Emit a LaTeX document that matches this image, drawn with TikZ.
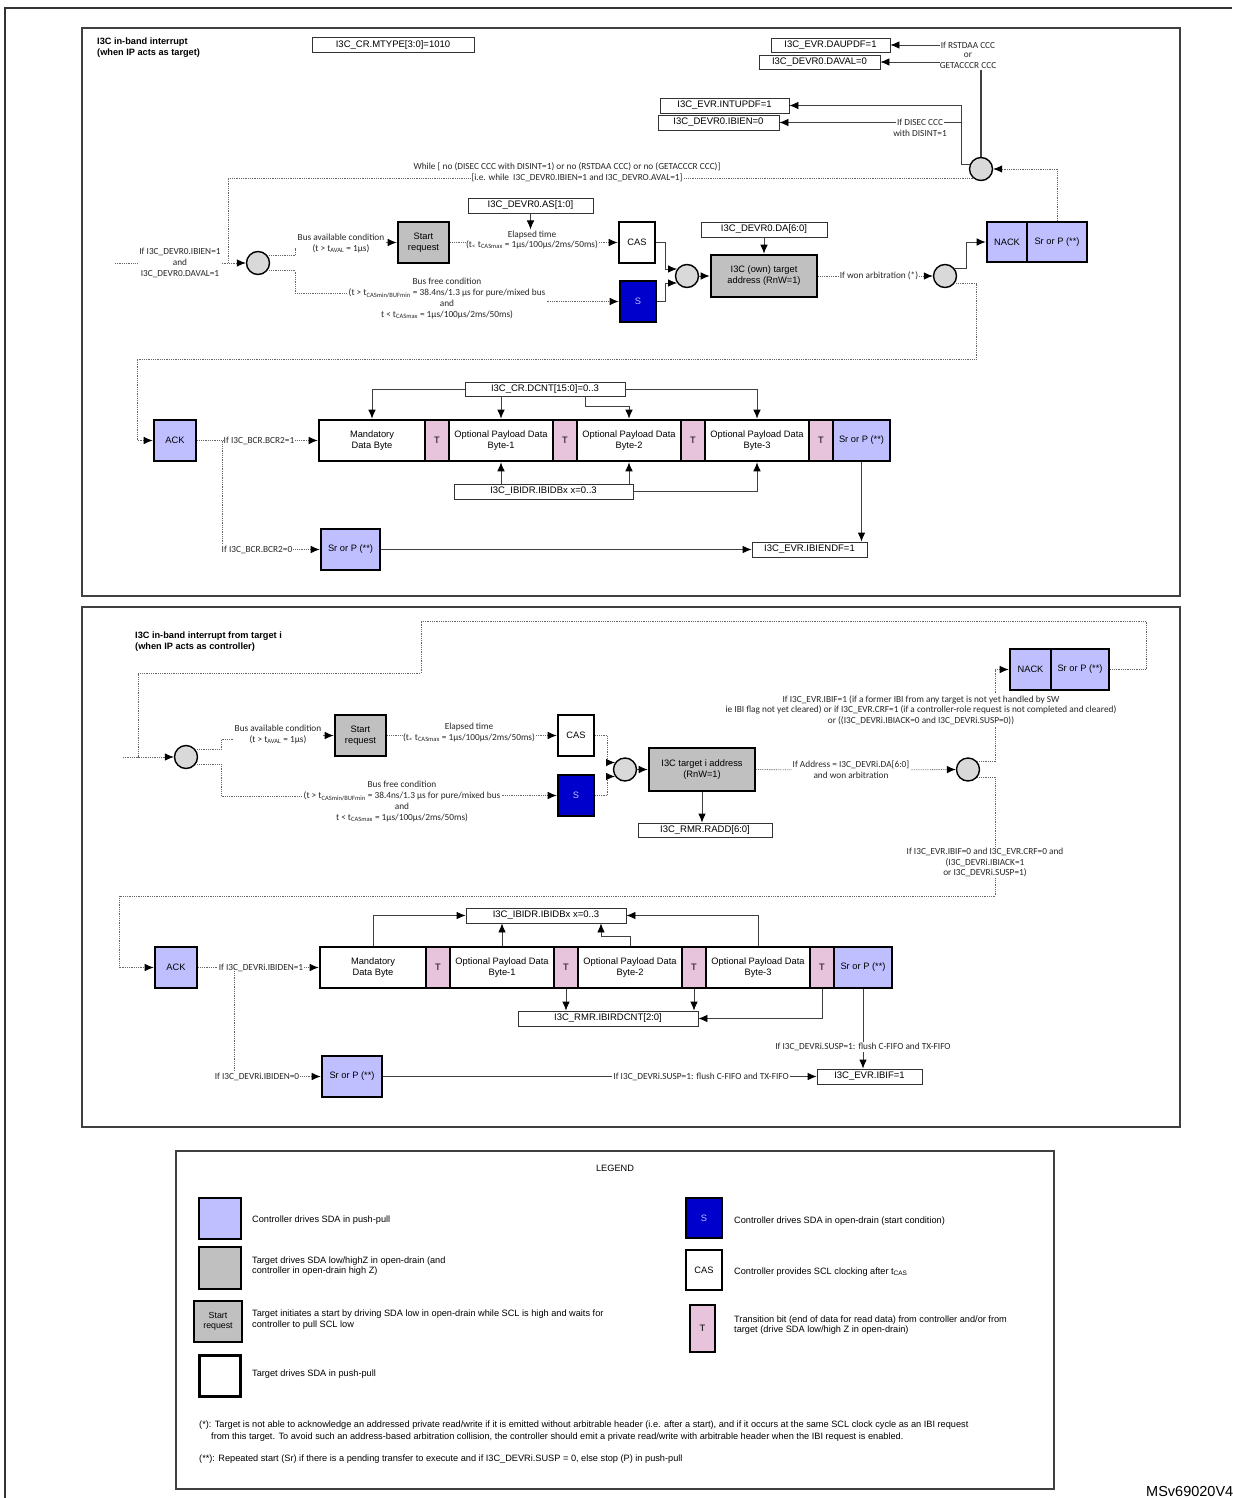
\documentclass[tikz,border=0pt]{standalone}
\usepackage{fontspec}
\setmainfont{Liberation Sans}
\newfontfamily\calfont{Carlito}
\usetikzlibrary{arrows.meta,calc}
\definecolor{lav}{RGB}{191,191,255}
\definecolor{gry}{RGB}{192,192,192}
\definecolor{sblue}{RGB}{0,0,204}
\definecolor{tpink}{RGB}{232,196,220}
\definecolor{jgray}{RGB}{217,217,217}
\newcommand\fsReg{\fontsize{9.5}{10}\selectfont}
\newcommand\fsBox{\fontsize{9.3}{11}\selectfont}
\newcommand\fsLbl{\calfont\fontsize{9.3}{10.7}\selectfont}
\newcommand\fsTtl{\bfseries\fontsize{9.2}{10.8}\selectfont}
\newcommand\fsLeg{\fontsize{9.2}{10.5}\selectfont}
\newcommand\fsFn{\fontsize{9.2}{11}\selectfont}
\tikzset{
 wh/.style 2 args={minimum width=#1pt, minimum height=#2pt},
 panel/.style={draw=black!75, line width=1.4pt},
 reg/.style={draw=black!80, line width=0.8pt, fill=white, inner sep=0pt, font=\fsReg},
 sda/.style={draw=black, line width=2.6pt, inner sep=0pt, align=center, font=\fsBox},
 ctl/.style={sda, fill=lav},
 tgt/.style={sda, fill=gry},
 wht/.style={sda, fill=white},
 blu/.style={sda, fill=sblue, text=lav},
 tbit/.style={sda, fill=tpink},
 junc/.style={circle, draw=black, line width=1.4pt, fill=jgray, minimum size=23pt, inner sep=0pt},
 lbl/.style={font=\fsLbl, align=center, inner sep=1pt, text=black!85},
 legtxt/.style={font=\fsLeg, align=left, inner sep=1pt},
 fn/.style={font=\fsFn, inner sep=0pt},
 ttl/.style={anchor=north west, align=left, font=\fsTtl, inner sep=0pt},
 sl/.style={draw=black!75, line width=0.8pt},
 sarr/.style={sl, -{Latex[length=9pt,width=7.5pt,color=black]}},
 dl/.style={draw=black!60, line width=0.8pt, densely dotted},
 darr/.style={dl, -{Latex[length=9pt,width=7.5pt,color=black]}},
}
\begin{document}
\begin{tikzpicture}[x=1pt,y=-1pt]
\useasboundingbox (0,0) rectangle (1232,1498);
\draw[line width=2.2pt, black!80] (5,1498) -- (5,8) -- (1232,8);

%================ TOP PANEL ================
\draw[panel] (82,28) rectangle (1180,596);
\node[ttl] (ttlA) at (97,38) {I3C in-band interrupt\\(when IP acts as target)};
\node[reg, wh={162}{15}] (mtype) at (393,45) {I3C\_CR.MTYPE[3:0]=1010};

\node[reg, wh={119}{14}] (dau) at (830.5,45) {I3C\_EVR.DAUPDF=1};
\node[reg, wh={121}{14}] (daval) at (819.5,62) {I3C\_DEVR0.DAVAL=0};
\node[lbl] (rst1) at (968,45) {If RSTDAA CCC};
\node[lbl] (rst2) at (968,55.5) {or};
\node[lbl] (rst3) at (968,66) {GETACCCR CCC};
\node[reg, wh={129}{15}] (intup) at (724.5,105.5) {I3C\_EVR.INTUPDF=1};
\node[reg, wh={121}{15}] (ibien0) at (718.5,122.5) {I3C\_DEVR0.IBIEN=0};
\node[lbl] (dis1) at (920,122.5) {If DISEC CCC};
\node[lbl] (dis2) at (920,133) {with DISINT=1};
\node[junc] (c1) at (981,169) {};

\draw[sarr] (rst1.west) -- (dau.east);
\draw[sarr] (rst1.west |- daval.east) -- (daval.east);
\draw[sl, line width=1.3pt] (c1 |- rst3.south) -- (c1.north);
\coordinate (jv) at (961,105.5);
\draw[sarr] (c1.160) -| (jv) -- (intup.east);
\draw[sl] (jv |- dis1.east) -- (dis1.east);
\draw[sarr] (dis1.west) -- (ibien0.east);

\node[lbl] (wh1) at (567,167) {While [ no (DISEC CCC with DISINT=1) or no (RSTDAA CCC) or no (GETACCCR CCC)]};
\node[lbl] (wh2) at (577,178) {{[}i.e. while\ \ I3C\_DEVR0.IBIEN=1 and I3C\_DEVRO.AVAL=1]};

\node[lbl] (entA) at (180,263) {If I3C\_DEVR0.IBIEN=1\\and\\I3C\_DEVR0.DAVAL=1};
\node[junc] (c2) at (258,263) {};
\coordinate (inA) at (115,263);
\coordinate (vl) at (228,178);
\draw[dl] (c1.230) -- (wh2.east |- c1.230);
\draw[dl] (wh2.west |- c1.230) -- (vl |- c1.230) -- (vl |- c2.west);
\draw[dl] (inA) -- (entA.west);
\draw[darr] (entA.east) -- (c2.west);

\node[lbl] (busA) at (341,243.5) {Bus available condition\\(t > t\textsubscript{AVAL} = 1µs)};
\node[tgt, wh={51}{41}] (startA) at (423.5,242.5) {Start\\request};
\draw[dl] (c2.40) -- ++(28,0) |- ([yshift=-5pt]busA.west);
\draw[darr] (busA.east |- startA.west) -- (startA.west);

\node[reg, wh={125}{15}] (asA) at (530.5,205.5) {I3C\_DEVR0.AS[1:0]};
\node[lbl] (elapA) at (532,240) {Elapsed time\\(t\textsubscript{<} t\textsubscript{CASmax} = 1µs/100µs/2ms/50ms)};
\node[wht, wh={36}{41}] (casA) at (637,242.5) {CAS};
\draw[sarr] (asA.south) -- (asA.south |- elapA.north);
\draw[dl] (startA.east) -- (elapA.west |- startA.east);
\draw[darr] (elapA.east |- startA.east) -- (casA.west);

\node[lbl] (busfA) at (447,298.5) {Bus free condition\\(t > t\textsubscript{CASmin/BUFmin} = 38.4ns/1.3 µs for pure/mixed bus\\and\\t < t\textsubscript{CASmax} = 1µs/100µs/2ms/50ms)};
\node[blu, wh={36}{41}] (sA) at (638,301.5) {S};
\draw[dl] (c2.-40) -- ++(28,0) |- ([yshift=5.35pt]busfA.west);
\draw[darr] (busfA.east |- sA.west) -- (sA.west);

\node[junc] (c3) at (687,276) {};
\draw[sarr] (casA.east) -- ++(9,0) |- (c3.145);
\draw[sarr] (sA.east) -- ++(8,0) |- (c3.215);
\node[reg, wh={126}{15}] (daA) at (764,229.5) {I3C\_DEVR0.DA[6:0]};
\node[tgt, wh={106}{42}] (addrA) at (764,276) {I3C (own) target\\address (RnW=1)};
\draw[sarr] (c3.east) -- (addrA.west);
\draw[sarr] (daA.south) -- (addrA.north);
\node[lbl] (wonA) at (879,276) {If won arbitration (*)};
\node[junc] (c4) at (945,276) {};
\draw[dl] (addrA.east) -- (wonA.west);
\draw[darr] (wonA.east) -- (c4.west);
\node[ctl, wh={40}{40}] (nackA) at (1007,242) {NACK};
\node[ctl, wh={60}{40}] (srA) at (1057,242) {Sr or P (**)};
\draw[sarr] (c4.40) -- ++(12,0) |- (nackA.west);
\draw[darr] (srA.north) |- (c1.east);

% row A
\node[ctl, wh={42}{41}] (ackA) at (175,440.5) {ACK};
\node[wht, wh={106}{41}] (mandA) at (372,440.5) {Mandatory\\Data Byte};
\node[tbit, wh={24}{41}] (tA1) at (437,440.5) {T};
\node[wht, wh={104}{41}] (b1A) at (501,440.5) {Optional Payload Data\\Byte-1};
\node[tbit, wh={24}{41}] (tA2) at (565,440.5) {T};
\node[wht, wh={104}{41}] (b2A) at (629,440.5) {Optional Payload Data\\Byte-2};
\node[tbit, wh={24}{41}] (tA3) at (693,440.5) {T};
\node[wht, wh={104}{41}] (b3A) at (757,440.5) {Optional Payload Data\\Byte-3};
\node[tbit, wh={24}{41}] (tA4) at (821,440.5) {T};
\node[ctl, wh={57}{41}] (srrA) at (861.5,440.5) {Sr or P (**)};

\coordinate (lpA) at (137,359);
\draw[darr] (c4.-40) -- ++(22,0) |- (lpA) |- (ackA.west);

\node[lbl] (bcr1) at (259,440.5) {If I3C\_BCR.BCR2=1};
\draw[dl] (ackA.east) -- (bcr1.west);
\draw[darr] (bcr1.east) -- (mandA.west);
\coordinate (brA) at (222,440.5);
\node[lbl] (bcr0) at (257,549.5) {If I3C\_BCR.BCR2=0};
\draw[dl] (brA) -- (brA |- bcr0.north);
\node[ctl, wh={59}{41}] (srlA) at (350.5,549.5) {Sr or P (**)};
\draw[darr] (bcr0.east) -- (srlA.west);
\node[reg, wh={115}{15}] (endf) at (809.5,549.5) {I3C\_EVR.IBIENDF=1};
\draw[sarr] (srlA.east) -- (endf.west);
\draw[sarr] (srrA.south) -- (srrA.south |- endf.north);

\node[reg, wh={160}{14}] (dcnt) at (545,389) {I3C\_CR.DCNT[15:0]=0..3};
\draw[sarr] (dcnt.west) -| (mandA.north);
\draw[sarr] (dcnt.south -| b1A) -- (b1A.north);
\draw[sarr] ([xshift=40pt]dcnt.south) -- ++(0,10) -| (b2A.north);
\draw[sarr] (dcnt.east) -| (b3A.north);
\node[reg, wh={179}{15}] (ibidrA) at (543.5,491.5) {I3C\_IBIDR.IBIDBx x=0..3};
\draw[sarr] (ibidrA.north -| b1A) -- (b1A.south);
\draw[sarr] (ibidrA.north -| b2A) -- (b2A.south);
\draw[sarr] (ibidrA.east) -| (b3A.south);

%================ BOTTOM PANEL ================
\draw[panel] (82,607) rectangle (1180,1127);
\node[ttl] (ttlB) at (135,632) {I3C in-band interrupt from target i\\(when IP acts as controller)};

\coordinate (lpB1) at (1146,621);
\coordinate (lpB2) at (421,673);
\coordinate (lpB3) at (138,757);
\coordinate (inB) at (123,757);
\coordinate (lpB4) at (119,896);
\node[junc] (d1) at (186,757) {};
\node[lbl] (busB) at (278,734.5) {Bus available condition\\(t > t\textsubscript{AVAL} = 1µs)};
\node[tgt, wh={51}{41}] (startB) at (360.5,735.5) {Start\\request};
\node[lbl] (elapB) at (469,732.5) {Elapsed time\\(t\textsubscript{<} t\textsubscript{CASmax} = 1µs/100µs/2ms/50ms)};
\node[wht, wh={36}{41}] (casB) at (576,735.5) {CAS};
\node[lbl] (busfB) at (402,801.5) {Bus free condition\\(t > t\textsubscript{CASmin/BUFmin} = 38.4ns/1.3 µs for pure/mixed bus\\and\\t < t\textsubscript{CASmax} = 1µs/100µs/2ms/50ms)};
\node[blu, wh={36}{41}] (sB) at (576,795.5) {S};
\node[junc] (d2) at (625,769.5) {};
\node[tgt, wh={106}{43}] (addrB) at (702,769.5) {I3C target i address\\(RnW=1)};
\node[reg, wh={134}{14}] (raddB) at (705,830) {I3C\_RMR.RADD[6:0]};
\node[lbl] (addrl) at (851,769.75) {If Address = I3C\_DEVRi.DA[6:0]\\and won arbitration};
\node[junc] (d3) at (968,769.5) {};
\node[ctl, wh={41}{41}] (nackB) at (1030.5,669.5) {NACK};
\node[ctl, wh={58}{41}] (srB) at (1080,669.5) {Sr or P (**)};

\draw[darr] (srB.east) -| (lpB1) -| (lpB2) -| (lpB3) -- (d1.west);
\draw[dl] (inB) -- (lpB3);
\draw[dl] (d1.40) -- ++(26,0) |- ([yshift=-5pt]busB.west);
\draw[darr] (busB.east |- startB.west) -- (startB.west);
\draw[dl] (startB.east) -- (elapB.west |- startB.east);
\draw[darr] (elapB.east |- startB.east) -- (casB.west);
\draw[dl] (d1.-40) -- ++(26,0) |- ([yshift=5.35pt]busfB.west);
\draw[darr] (busfB.east |- sB.west) -- (sB.west);
\draw[darr] (casB.east) -- ++(12,0) |- (d2.145);
\draw[darr] (sB.east) -- ++(12,0) |- (d2.215);
\draw[sarr] (d2.east) -- (addrB.west);
\draw[sarr] (addrB.south) -- (addrB.south |- raddB.north);
\draw[dl] (addrB.east) -- (addrl.west);
\draw[darr] (addrl.east) -- (d3.west);

% row B
\node[ctl, wh={42}{41}] (ackB) at (176,967.5) {ACK};
\node[wht, wh={106}{41}] (mandB) at (373,967.5) {Mandatory\\Data Byte};
\node[tbit, wh={24}{41}] (tB1) at (438,967.5) {T};
\node[wht, wh={104}{41}] (b1B) at (502,967.5) {Optional Payload Data\\Byte-1};
\node[tbit, wh={24}{41}] (tB2) at (566,967.5) {T};
\node[wht, wh={104}{41}] (b2B) at (630,967.5) {Optional Payload Data\\Byte-2};
\node[tbit, wh={24}{41}] (tB3) at (694,967.5) {T};
\node[wht, wh={104}{41}] (b3B) at (758,967.5) {Optional Payload Data\\Byte-3};
\node[tbit, wh={24}{41}] (tB4) at (822,967.5) {T};
\node[ctl, wh={58}{41}] (srrB) at (863,967.5) {Sr or P (**)};

\draw[darr] (d3.40) -- ++(18,0) |- (nackB.west);
\draw[darr] (d3.-40) -- ++(18,0) |- (lpB4) |- (ackB.west);
\node[lbl, fill=white] (ibif1) at (921,710) {If I3C\_EVR.IBIF=1 (if a former IBI from any target is not yet handled by SW\\ie IBI flag not yet cleared) or if I3C\_EVR.CRF=1 (if a controller-role request is not completed and cleared)\\or ((I3C\_DEVRi.IBIACK=0 and I3C\_DEVRi.SUSP=0))};
\node[lbl, fill=white] (ibif0) at (985,862.5) {If I3C\_EVR.IBIF=0 and I3C\_EVR.CRF=0 and\\(I3C\_DEVRi.IBIACK=1\\or I3C\_DEVRi.SUSP=1)};

\node[lbl] (iben1) at (261,967.5) {If I3C\_DEVRi.IBIDEN=1};
\coordinate (brB) at (234,967.5);
\node[lbl] (iben0) at (257,1076.5) {If I3C\_DEVRi.IBIDEN=0};
\node[ctl, wh={60}{41}] (srlB) at (352,1076.5) {Sr or P (**)};
\node[reg, wh={105}{15}] (ibifB) at (869.5,1076.5) {I3C\_EVR.IBIF=1};
\node[lbl, anchor=east] (susp1) at (790,1076.5) {If I3C\_DEVRi.SUSP=1: flush C-FIFO and TX-FIFO};
\draw[dl] (ackB.east) -- (iben1.west);
\draw[darr] (iben1.east) -- (mandB.west);
\draw[dl] (brB) -- (brB |- iben0.north);
\draw[darr] (iben0.east) -- (srlB.west);
\draw[sl] (srlB.east) -- (susp1.west);
\draw[sarr] (susp1.east) -- (ibifB.west);
\draw[sarr] (srrB.south) -- (srrB.south |- ibifB.north);
\node[lbl, fill=white] (susp2) at (863,1047) {If I3C\_DEVRi.SUSP=1: flush C-FIFO and TX-FIFO};

\node[reg, wh={160}{15}] (ibidrB) at (546,915.5) {I3C\_IBIDR.IBIDBx x=0..3};
\node[reg, wh={180}{15}] (rdcnt) at (608,1018.5) {I3C\_RMR.IBIRDCNT[2:0]};
\draw[sarr] (mandB.north) |- (ibidrB.west);
\draw[sarr] (b1B.north) -- (b1B.north |- ibidrB.south);
\draw[sarr] (b2B.north) -- ++(0,-9) -| ([xshift=55pt]ibidrB.south);
\draw[sarr] (b3B.north) |- (ibidrB.east);
\draw[sarr] (tB2.south) -- (tB2.south |- rdcnt.north);
\draw[sarr] (tB3.south) -- (tB3.south |- rdcnt.north);
\draw[sarr] (tB4.south) |- (rdcnt.east);

%================ LEGEND ================
\draw[panel] (176,1151) rectangle (1054,1489);
\node[font=\fsLeg] (legt) at (615,1168) {LEGEND};
\node[ctl, wh={42}{41}] (lg1) at (220,1218.5) {};
\node[legtxt, anchor=west] (lg1t) at (251,1220) {Controller drives SDA in push-pull};
\node[tgt, wh={42}{42}] (lg2) at (220,1268) {};
\node[legtxt, anchor=west] (lg2t) at (251,1266) {Target drives SDA low/highZ in open-drain (and\\controller in open-drain high Z)};
\node[tgt, wh={48}{41}, font=\fontsize{8.8}{10.5}\selectfont] (lg3) at (218,1321.5) {Start\\request};
\node[legtxt, anchor=west] (lg3t) at (251,1319.5) {Target initiates a start by driving SDA low in open-drain while SCL is high and waits for\\controller to pull SCL low};
\node[wht, wh={41}{41}] (lg4) at (220,1376) {};
\node[legtxt, anchor=west] (lg4t) at (251,1374) {Target drives SDA in push-pull};
\node[blu, wh={36}{40}] (lg5) at (704,1218) {S};
\node[legtxt, anchor=west] (lg5t) at (733,1221) {Controller drives SDA in open-drain (start condition)};
\node[wht, wh={36}{40}] (lg6) at (704,1270) {CAS};
\node[legtxt, anchor=west] (lg6t) at (733,1272) {Controller provides SCL clocking after t\textsubscript{CAS}};
\node[tbit, wh={25}{47}] (lg7) at (702.5,1328.5) {T};
\node[legtxt, anchor=west] (lg7t) at (733,1325) {Transition bit (end of data for read data) from controller and/or from\\target (drive SDA low/high Z in open-drain)};
\node[fn, anchor=west] (fn1) at (199,1425) {(*): Target is not able to acknowledge an addressed private read/write if it is emitted without arbitrable header (i.e. after a start), and if it occurs at the same SCL clock cycle as an IBI request};
\node[fn, anchor=west] (fn1b) at (211,1437) {from this target. To avoid such an address-based arbitration collision, the controller should emit a private read/write with arbitrable header when the IBI request is enabled.};
\node[fn, anchor=west] (fn2) at (199,1459) {(**): Repeated start (Sr) if there is a pending transfer to execute and if I3C\_DEVRi.SUSP = 0, else stop (P) in push-pull};
\node[anchor=base west, inner sep=0pt, font=\fontsize{14.5}{16}\selectfont] (msv) at (1146,1496) {MSv69020V4};
\end{tikzpicture}
\end{document}
